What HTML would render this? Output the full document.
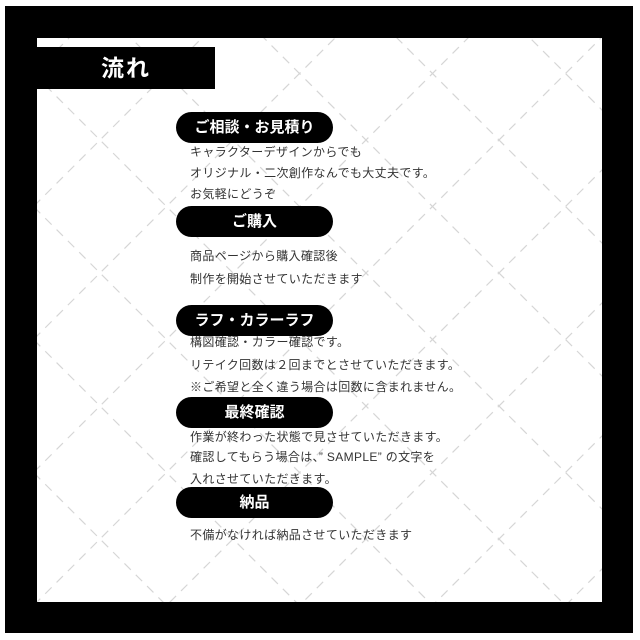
<!DOCTYPE html>
<html style="overflow:hidden"><head><meta charset="utf-8"><style>
html,body{margin:0;width:640px;height:640px;overflow:hidden}
body{background:#fff;position:relative;font-family:"Liberation Sans","Noto Sans CJK JP",sans-serif}
.a{position:absolute}
svg{overflow:hidden;display:block}
.pill{position:absolute;left:176px;width:157px;height:31px;background:#000;border-radius:16px;color:#fff;font-weight:bold;font-size:15px;line-height:31px;text-align:center}
.t{position:absolute;left:190px;font-size:12px;letter-spacing:0.35px;color:#333;white-space:nowrap;line-height:14px}
</style></head><body>
<div class="a" style="left:5px;top:6px;width:628px;height:627px;background:#000"></div>
<div class="a" style="left:37px;top:38px;width:565px;height:564px;background:#fff"></div>
<svg class="a" style="left:37px;top:38px" width="565" height="564" viewBox="37 38 565 564">
<g stroke="#d6d6d6" stroke-width="1.2" stroke-dasharray="9 7" fill="none">
<line x1="0" y1="240" x2="240" y2="0"/>
<line x1="0" y1="373" x2="373" y2="0"/>
<line x1="0" y1="506" x2="506" y2="0"/>
<line x1="0" y1="639" x2="639" y2="0"/>
<line x1="0" y1="772" x2="772" y2="0"/>
<line x1="0" y1="905" x2="905" y2="0"/>
<line x1="0" y1="1038" x2="1038" y2="0"/>
<line x1="0" y1="1171" x2="1171" y2="0"/>
<line x1="0" y1="107" x2="107" y2="0"/>
<line x1="0" y1="-226" x2="866" y2="640"/>
<line x1="0" y1="-93" x2="733" y2="640"/>
<line x1="0" y1="40" x2="600" y2="640"/>
<line x1="0" y1="173" x2="467" y2="640"/>
<line x1="0" y1="306" x2="334" y2="640"/>
<line x1="0" y1="439" x2="201" y2="640"/>
<line x1="0" y1="-359" x2="999" y2="640"/>
<line x1="0" y1="-492" x2="1132" y2="640"/>
</g></svg>
<div class="a" style="left:37px;top:47px;width:178px;height:42px;background:#000;color:#fff;font-weight:bold;font-size:23px;line-height:42px;text-align:center;letter-spacing:2px">流れ</div>
<div class="pill" style="top:112px">ご相談・お見積り</div>
<div class="t" style="top:145px">キャラクターデザインからでも</div>
<div class="t" style="top:166px">オリジナル・二次創作なんでも大丈夫です。</div>
<div class="t" style="top:187px">お気軽にどうぞ</div>
<div class="pill" style="top:206px">ご購入</div>
<div class="t" style="top:249px">商品ページから購入確認後</div>
<div class="t" style="top:272px">制作を開始させていただきます</div>
<div class="pill" style="top:305px">ラフ・カラーラフ</div>
<div class="t" style="top:335px">構図確認・カラー確認です。</div>
<div class="t" style="top:358px">リテイク回数は２回までとさせていただきます。</div>
<div class="t" style="top:380px">※ご希望と全く違う場合は回数に含まれません。</div>
<div class="pill" style="top:397px">最終確認</div>
<div class="t" style="top:430px">作業が終わった状態で見させていただきます。</div>
<div class="t" style="top:450px">確認してもらう場合は、” SAMPLE” の文字を</div>
<div class="t" style="top:472px">入れさせていただきます。</div>
<div class="pill" style="top:487px">納品</div>
<div class="t" style="top:528px">不備がなければ納品させていただきます</div>
</body></html>
